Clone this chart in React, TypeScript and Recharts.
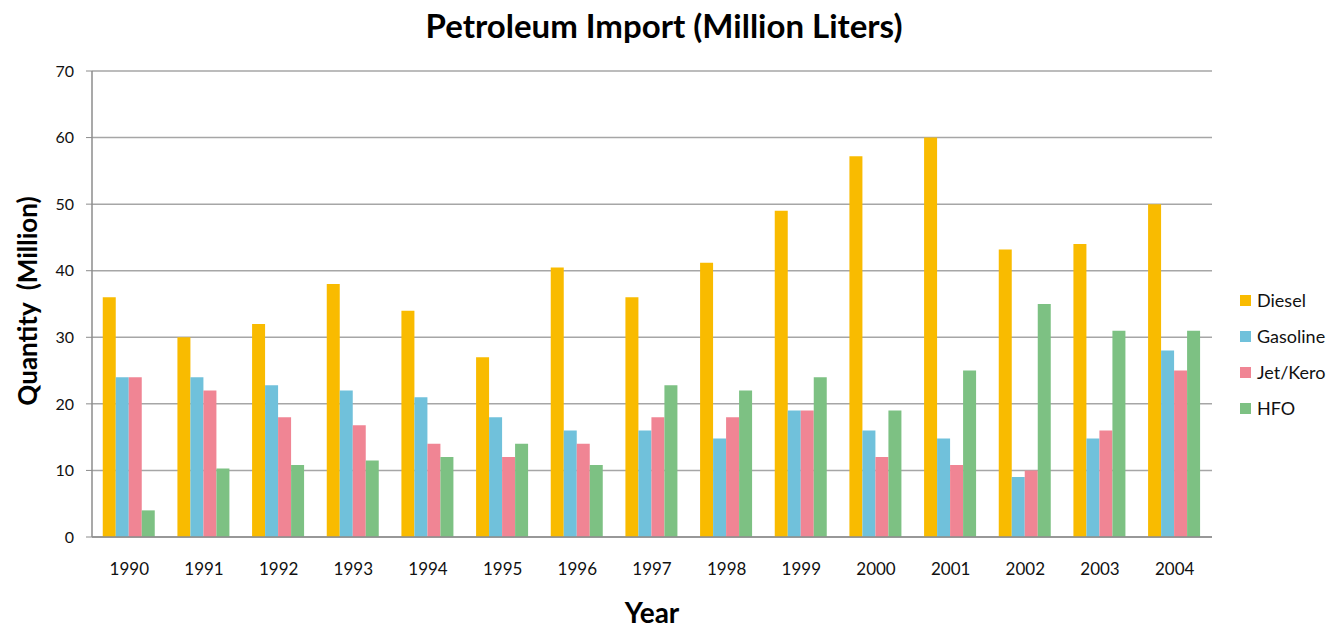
import { Bar, BarChart, CartesianGrid, Legend, XAxis, YAxis } from "recharts";

const years = [
  "1990", "1991", "1992", "1993", "1994", "1995", "1996", "1997",
  "1998", "1999", "2000", "2001", "2002", "2003", "2004",
];
const diesel = [36, 30, 32, 38, 34, 27, 40.5, 36, 41.2, 49, 57.2, 60, 43.2, 44, 50];
const gasoline = [24, 24, 22.8, 22, 21, 18, 16, 16, 14.8, 19, 16, 14.8, 9, 14.8, 28];
const jetKero = [24, 22, 18, 16.8, 14, 12, 14, 18, 18, 19, 12, 10.8, 10, 16, 25];
const hfo = [4, 10.3, 10.8, 11.5, 12, 14, 10.8, 22.8, 22, 24, 19, 25, 35, 31, 31];
const yTicks = [0, 10, 20, 30, 40, 50, 60, 70];

const series = [
  { key: "diesel", name: "Diesel", color: "#F9BB00" },
  { key: "gasoline", name: "Gasoline", color: "#70C1DB" },
  { key: "jetKero", name: "Jet/Kero", color: "#F08594" },
  { key: "hfo", name: "HFO", color: "#7DC183" },
];

const chartData = years.map((year, i) => ({
  year,
  diesel: diesel[i],
  gasoline: gasoline[i],
  jetKero: jetKero[i],
  hfo: hfo[i],
}));

const font = "Lato, 'Open Sans', sans-serif";

function LegendBox() {
  return (
    <div style={{ fontFamily: font, fontSize: 18, color: "#111" }}>
      {series.map((s) => (
        <div
          key={s.key}
          style={{ display: "flex", alignItems: "center", height: 36 }}
        >
          <span
            style={{
              width: 11,
              height: 11,
              background: s.color,
              marginRight: 6,
              display: "inline-block",
            }}
          />
          {s.name}
        </div>
      ))}
    </div>
  );
}

export default function App() {
  return (
    <div style={{ position: "relative", width: 1342, height: 627, background: "#fff" }}>
      <style>{`body{margin:0}`}</style>
      <div
        style={{
          position: "absolute",
          top: 5,
          left: 0,
          width: 1328,
          textAlign: "center",
          fontFamily: font,
          fontWeight: 700,
          fontSize: 33,
          color: "#000",
        }}
      >
        Petroleum Import (Million Liters)
      </div>
      <div
        style={{
          position: "absolute",
          left: 27,
          top: 301,
          transform: "translate(-50%, -50%) rotate(-90deg)",
          whiteSpace: "nowrap",
          fontFamily: font,
          fontWeight: 700,
          fontSize: 26,
          color: "#000",
        }}
      >
        Quantity&nbsp; (Million)
      </div>
      <div
        style={{
          position: "absolute",
          left: 652,
          top: 612,
          transform: "translate(-50%, -50%)",
          fontFamily: font,
          fontWeight: 700,
          fontSize: 28,
          color: "#000",
        }}
      >
        Year
      </div>
      <BarChart
        width={1342}
        height={627}
        data={chartData}
        margin={{ top: 71, right: 28, bottom: 60, left: 40 }}
        barCategoryGap="14.4%"
        barGap={0}
      >
        <CartesianGrid vertical={false} stroke="#a6a6a6" strokeWidth={1.5} />
        <XAxis
          dataKey="year"
          height={30}
          tickLine={false}
          axisLine={{ stroke: "#8c8c8c", strokeWidth: 1.5 }}
          tick={{ fill: "#111", fontSize: 17, fontFamily: font }}
          tickMargin={20}
          interval={0}
        />
        <YAxis
          width={52}
          domain={[0, 70]}
          ticks={yTicks}
          tickLine={{ stroke: "#8c8c8c" }}
          tickSize={6}
          axisLine={{ stroke: "#8c8c8c", strokeWidth: 1.5 }}
          tick={{ fill: "#111", fontSize: 16, fontFamily: font }}
          tickMargin={12}
        />
        <Legend
          layout="vertical"
          align="right"
          verticalAlign="top"
          wrapperStyle={{ top: 282, right: 0, width: 102 }}
          content={<LegendBox />}
        />
        {series.map((s) => (
          <Bar
            key={s.key}
            dataKey={s.key}
            name={s.name}
            fill={s.color}
            isAnimationActive={false}
          />
        ))}
      </BarChart>
    </div>
  );
}
